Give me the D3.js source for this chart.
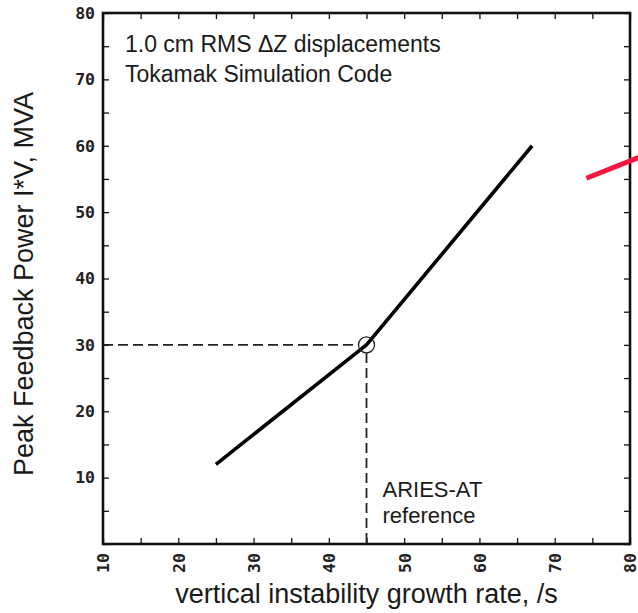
<!DOCTYPE html>
<html>
<head>
<meta charset="utf-8">
<script src="https://cdn.jsdelivr.net/npm/d3@7"></script>
<style>
  body { margin: 0; background: #fff; }
  .axis .tick text { font-family: "DejaVu Sans Mono", monospace; font-weight: bold; font-size: 16.5px; fill: #222; }
  .lbl { font-family: "Liberation Sans", Arial, sans-serif; fill: #1a1a1a; }
</style>
</head>
<body>
<div id="chart"></div>
<script>
// growth rate (1/s) vs peak feedback power (MVA)
var growthRate = [25, 45, 67];
var peakPower = [12, 30, 60];

// ARIES-AT reference point
var refRate = 45;
var refPower = 30;

var xTicks = [10, 20, 30, 40, 50, 60, 70, 80];
var yTicks = [10, 20, 30, 40, 50, 60, 70, 80];
var minorStep = 5;

// red pointer stub entering from the right
var pointerX = [74.2, 81.3];
var pointerY = [55.1, 58.3];

var outerWidth = 638;
var outerHeight = 613;
var margin = {top: 13, right: 8, bottom: 69, left: 103};
var innerWidth = outerWidth - margin.left - margin.right;
var innerHeight = outerHeight - margin.top - margin.bottom;

var svg = d3.select("#chart")
  .append("svg")
  .attr("width", outerWidth)
  .attr("height", outerHeight)
  .append("g")
  .attr("transform", "translate(" + margin.left + "," + margin.top + ")");

var xScale = d3.scaleLinear().domain([10, 80]).range([0, innerWidth]);
var yScale = d3.scaleLinear().domain([0, 80]).range([innerHeight, 0]);

var allX = d3.range(10, 80 + 0.1, minorStep);
var allY = d3.range(0, 80 + 0.1, minorStep);

// inward ticks on all four sides
var tickLen = 6;
var tickG = svg.append("g").attr("class", "ticks");
tickG.append("g").call(d3.axisBottom(xScale).tickValues(allX).tickSize(-tickLen))
  .attr("transform", "translate(0," + innerHeight + ")");
tickG.append("g").call(d3.axisTop(xScale).tickValues(allX).tickSize(-tickLen));
tickG.append("g").call(d3.axisLeft(yScale).tickValues(allY).tickSize(-tickLen));
tickG.append("g").call(d3.axisRight(yScale).tickValues(allY).tickSize(-tickLen))
  .attr("transform", "translate(" + innerWidth + ",0)");
tickG.selectAll(".domain").remove();
tickG.selectAll(".tick text").remove();
tickG.selectAll(".tick line").attr("stroke", "#111").attr("stroke-width", 1.3);

// tick labels
var xLab = svg.append("g").attr("class", "x axis")
  .attr("transform", "translate(0," + innerHeight + ")")
  .call(d3.axisBottom(xScale).tickValues(xTicks).tickSize(0).tickFormat(d3.format("d")));
xLab.selectAll(".tick text")
  .attr("transform", "rotate(-90)")
  .attr("x", -9)
  .attr("y", 0)
  .attr("dy", "0.36em")
  .style("text-anchor", "end");

var yLab = svg.append("g").attr("class", "y axis")
  .call(d3.axisLeft(yScale).tickValues(yTicks).tickSize(0).tickPadding(8).tickFormat(d3.format("d")));
svg.selectAll(".axis .domain").remove();

// frame
svg.append("rect")
  .attr("x", 0).attr("y", 0)
  .attr("width", innerWidth).attr("height", innerHeight)
  .attr("fill", "none")
  .attr("stroke", "#111")
  .attr("stroke-width", 2.6);

// dashed guides to the reference point
svg.append("line")
  .attr("x1", xScale(10)).attr("x2", xScale(refRate) - 8)
  .attr("y1", yScale(refPower)).attr("y2", yScale(refPower))
  .attr("stroke", "#222").attr("stroke-width", 1.8)
  .attr("stroke-dasharray", "10,5");
svg.append("line")
  .attr("x1", xScale(refRate)).attr("x2", xScale(refRate))
  .attr("y1", yScale(refPower) + 8).attr("y2", yScale(0))
  .attr("stroke", "#222").attr("stroke-width", 1.8)
  .attr("stroke-dasharray", "10,5");

// main curve
var line = d3.line()
  .x(function(d, i) { return xScale(growthRate[i]); })
  .y(function(d) { return yScale(d); });

svg.append("path")
  .datum(peakPower)
  .attr("fill", "none")
  .attr("stroke", "#000")
  .attr("stroke-width", 3.6)
  .attr("stroke-linejoin", "round")
  .attr("stroke-linecap", "butt")
  .attr("d", line);

// open circle marking the reference
svg.append("circle")
  .attr("cx", xScale(refRate))
  .attr("cy", yScale(refPower))
  .attr("r", 8)
  .attr("fill", "none")
  .attr("stroke", "#222")
  .attr("stroke-width", 1.3);

// red pointer
svg.append("line")
  .attr("x1", xScale(pointerX[0])).attr("y1", yScale(pointerY[0]))
  .attr("x2", xScale(pointerX[1])).attr("y2", yScale(pointerY[1]))
  .attr("stroke", "#f5173f")
  .attr("stroke-width", 5);

// annotations
svg.append("text").attr("class", "lbl")
  .attr("x", 22).attr("y", 39)
  .style("font-size", "23px")
  .text("1.0 cm RMS \u0394Z displacements");
svg.append("text").attr("class", "lbl")
  .attr("x", 22).attr("y", 69)
  .style("font-size", "23px")
  .text("Tokamak Simulation Code");

svg.append("text").attr("class", "lbl")
  .attr("x", xScale(refRate) + 16).attr("y", 484)
  .style("font-size", "22px")
  .text("ARIES-AT");
svg.append("text").attr("class", "lbl")
  .attr("x", xScale(refRate) + 16).attr("y", 510)
  .style("font-size", "22px")
  .text("reference");

// axis titles
svg.append("text").attr("class", "lbl")
  .attr("x", innerWidth / 2)
  .attr("y", 590)
  .style("text-anchor", "middle")
  .style("font-size", "27px")
  .text("vertical instability growth rate, /s");

svg.append("text").attr("class", "lbl")
  .attr("transform", "translate(" + (33 - margin.left) + "," + (284 - margin.top) + ") rotate(-90)")
  .style("text-anchor", "middle")
  .style("font-size", "27px")
  .text("Peak Feedback Power I*V, MVA");
</script>
</body>
</html>
